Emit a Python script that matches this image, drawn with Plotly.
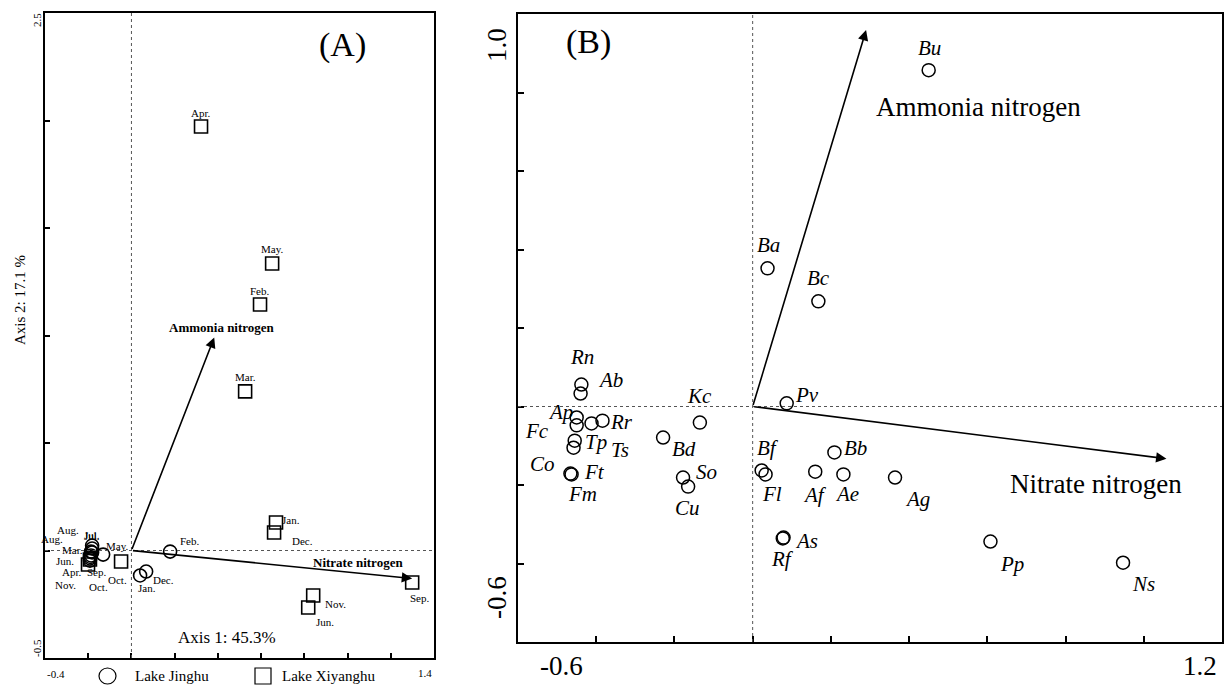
import plotly.graph_objects as go
import numpy as np

# ---------------- Panel A data (sites / months) ----------------
jinghu_months = ["Jan.", "Feb.", "Mar.", "Apr.", "May.", "Jun.", "Jul.", "Aug.", "Sep.", "Oct.", "Nov.", "Dec."]
jinghu_x = [0.040, 0.179, -0.187, -0.192, -0.131, -0.187, -0.182, -0.182, -0.182, -0.190, -0.192, 0.068]
jinghu_y = [-0.116, -0.005, -0.005, -0.037, -0.019, -0.023, 0.009, 0.023, -0.009, -0.030, -0.047, -0.098]

xiyang_months = ["Jan.", "Feb.", "Mar.", "Apr.", "May.", "Jun.", "Jul.", "Aug.", "Sep.", "Oct.", "Nov.", "Dec."]
xiyang_x = [0.669, 0.595, 0.526, 0.322, 0.651, 0.818, -0.192, -0.201, 1.299, -0.048, 0.841, 0.660]
xiyang_y = [0.130, 1.144, 0.740, 1.972, 1.335, -0.265, -0.042, -0.065, -0.149, -0.051, -0.209, 0.084]

env_vars = ["Ammonia nitrogen", "Nitrate nitrogen"]
envA_x = [0.383, 1.299]
envA_y = [0.991, -0.130]

# ---------------- Panel B data (species) ----------------
species = ["Bu", "Ba", "Bc", "Pv", "Bb", "Bf", "Fl", "Af", "Ae", "Ag", "As", "Rf", "Pp", "Ns",
           "Kc", "Bd", "So", "Cu", "Rn", "Ab", "Ap", "Rr", "Fc", "Tp", "Ts", "Co", "Ft", "Fm"]
species_x = [0.450, 0.038, 0.168, 0.087, 0.209, 0.023, 0.033, 0.160, 0.232, 0.364, 0.079, 0.077, 0.608, 0.947,
             -0.135, -0.229, -0.178, -0.165, -0.438, -0.440, -0.450, -0.384, -0.450, -0.455, -0.412, -0.458, -0.466, -0.463]
species_y = [0.857, 0.352, 0.268, 0.008, -0.117, -0.163, -0.173, -0.166, -0.173, -0.181, -0.334, -0.336, -0.344, -0.398,
             -0.041, -0.079, -0.181, -0.204, 0.056, 0.033, -0.028, -0.036, -0.048, -0.087, -0.043, -0.105, -0.171, -0.173]
envB_x = [0.290, 1.058]
envB_y = [0.959, -0.133]

# ---------------- label offsets (screen px: dx right, dy down) ----------------
offA_jing = {"Jan.": (7, 13), "Feb.": (20, -11), "Mar.": (-19, -2), "Apr.": (-18, 14), "May.": (14, -9),
             "Jun.": (-26, 6), "Jul.": (0, -13), "Aug.": (-24, -16), "Sep.": (5, 20), "Oct.": (8, 30),
             "Nov.": (-24, 24), "Dec.": (17, 8)}
offA_xiy = {"Jan.": (15, -3), "Feb.": (0, -14), "Mar.": (0, -14), "Apr.": (0, -14), "May.": (0, -14),
            "Jun.": (17, 15), "Jul.": (2, -25), "Aug.": (-36, -25), "Sep.": (8, 15), "Oct.": (-4, 19),
            "Nov.": (22, 9), "Dec.": (28, 9)}
offB = {"Bu": (1, -22), "Ba": (1, -23), "Bc": (0, -23), "Pv": (20, -8), "Bb": (21, -4), "Bf": (6, -22),
        "Fl": (6, 20), "Af": (0, 23), "Ae": (4, 20), "Ag": (22, 21), "As": (23, 3), "Rf": (0, 21),
        "Pp": (22, 22), "Ns": (20, 21), "Kc": (0, -27), "Bd": (21, 11), "So": (23, -6), "Cu": (-1, 21),
        "Rn": (1, -28), "Ab": (30, -14), "Ap": (-16, -5), "Rr": (19, 1), "Fc": (-40, 6), "Tp": (21, 1),
        "Ts": (28, 27), "Co": (-31, 16), "Ft": (24, -2), "Fm": (11, 20)}

SERIF = "Liberation Serif, Times New Roman, serif"
W, H = 1224, 686

fig = go.Figure()

# Panel A markers
fig.add_trace(go.Scatter(x=xiyang_x, y=xiyang_y, mode="markers", xaxis="x", yaxis="y",
                         marker=dict(symbol="square-open", size=13, color="black", line=dict(width=1.6)),
                         showlegend=False, hoverinfo="skip"))
fig.add_trace(go.Scatter(x=jinghu_x, y=jinghu_y, mode="markers", xaxis="x", yaxis="y",
                         marker=dict(symbol="circle-open", size=13, color="black", line=dict(width=1.6)),
                         showlegend=False, hoverinfo="skip"))
# Panel B markers
fig.add_trace(go.Scatter(x=species_x, y=species_y, mode="markers", xaxis="x2", yaxis="y2",
                         marker=dict(symbol="circle-open", size=13, color="black", line=dict(width=1.5)),
                         showlegend=False, hoverinfo="skip"))

ann = []
C = dict(xanchor="center", yanchor="middle", showarrow=False)
for m, x, y in zip(jinghu_months, jinghu_x, jinghu_y):
    dx, dy = offA_jing[m]
    ann.append(dict(x=x, y=y, xref="x", yref="y", text=m, xshift=dx, yshift=-dy,
                    font=dict(family=SERIF, size=11, color="black"), **C))
for m, x, y in zip(xiyang_months, xiyang_x, xiyang_y):
    dx, dy = offA_xiy[m]
    ann.append(dict(x=x, y=y, xref="x", yref="y", text=m, xshift=dx, yshift=-dy,
                    font=dict(family=SERIF, size=11, color="black"), **C))
for s, x, y in zip(species, species_x, species_y):
    dx, dy = offB[s]
    ann.append(dict(x=x, y=y, xref="x2", yref="y2", text="<i>" + s + "</i>",
                    xshift=dx, yshift=-dy, font=dict(family=SERIF, size=21, color="black"), **C))

# environmental arrows
for (xr, yr, ex, ey) in [("x", "y", envA_x, envA_y), ("x2", "y2", envB_x, envB_y)]:
    for vx, vy in zip(ex, ey):
        ann.append(dict(x=vx, y=vy, ax=0, ay=0, xref=xr, yref=yr, axref=xr, ayref=yr, text="",
                        showarrow=True, arrowhead=2, arrowsize=1.3, arrowwidth=1.6, arrowcolor="black"))

# arrow labels
ann.append(dict(x=envA_x[0], y=envA_y[0], xref="x", yref="y", text="<b>" + env_vars[0] + "</b>",
                xshift=8, yshift=10, font=dict(family=SERIF, size=13, color="black"), **C))
ann.append(dict(x=envA_x[1], y=envA_y[1], xref="x", yref="y", text="<b>" + env_vars[1] + "</b>",
                xshift=-54, yshift=16, font=dict(family=SERIF, size=13, color="black"), **C))
ann.append(dict(x=envB_x[0], y=envB_y[0], xref="x2", yref="y2", text=env_vars[0],
                xshift=112, yshift=-77, font=dict(family=SERIF, size=27, color="black"), **C))
ann.append(dict(x=envB_x[1], y=envB_y[1], xref="x2", yref="y2", text=env_vars[1],
                xshift=-70, yshift=-25, font=dict(family=SERIF, size=27, color="black"), **C))

def px(x):
    return x / W

def py(y):
    return 1 - y / H

def ptext(x, y, t, size, angle=0, anchor="center"):
    return dict(x=px(x), y=py(y), xref="paper", yref="paper", text=t, showarrow=False,
                xanchor=anchor, yanchor="middle", textangle=angle,
                font=dict(family=SERIF, size=size, color="black"))

# panel titles and axis texts
ann += [
    ptext(342, 45, "(A)", 34),
    ptext(588, 42, "(B)", 34),
    ptext(227, 637, "Axis 1: 45.3%", 17),
    ptext(20, 300, "Axis 2: 17.1 %", 15, -90),
    ptext(56, 674, "-0.4", 11),
    ptext(425, 673, "1.4", 11),
    ptext(37, 20, "2.5", 11, -90),
    ptext(37, 648, "-0.5", 11, -90),
    ptext(561, 666, "-0.6", 27),
    ptext(1200, 666, "1.2", 27),
    ptext(497, 45, "1.0", 27, -90),
    ptext(497, 598, "-0.6", 27, -90),
    ptext(133, 676, "Lake Jinghu", 15, anchor="left"),
    ptext(280, 676, "Lake Xiyanghu", 15, anchor="left"),
]

shapes = [
    # zero reference lines
    dict(type="line", xref="x", yref="paper", x0=0, x1=0, y0=py(658), y1=py(13),
         line=dict(color="#555", width=1, dash="dot")),
    dict(type="line", xref="paper", yref="y", x0=px(45), x1=px(434), y0=0, y1=0,
         line=dict(color="#555", width=1, dash="dot")),
    dict(type="line", xref="x2", yref="paper", x0=0, x1=0, y0=py(642), y1=py(14),
         line=dict(color="#555", width=1, dash="dot")),
    dict(type="line", xref="paper", yref="y2", x0=px(518), x1=px(1222), y0=0, y1=0,
         line=dict(color="#555", width=1, dash="dot")),
    # legend symbols
    dict(type="circle", xref="paper", yref="paper", x0=px(99), x1=px(116), y0=py(684), y1=py(668),
         line=dict(color="black", width=1.2)),
    dict(type="rect", xref="paper", yref="paper", x0=px(255), x1=px(271), y0=py(684), y1=py(668),
         line=dict(color="black", width=1.2)),
]

axis_common = dict(showgrid=False, zeroline=False, showticklabels=False, linecolor="black",
                   mirror=True, ticks="inside", tickcolor="black", showline=True)

fig.update_layout(
    width=W, height=H, margin=dict(l=0, r=0, t=0, b=0),
    paper_bgcolor="white", plot_bgcolor="white", showlegend=False,
    xaxis=dict(domain=[px(45), px(434)], range=[-0.4, 1.4], tickvals=list(np.round(np.arange(-0.4, 1.41, 0.2), 2)),
               linewidth=2, ticklen=5, tickwidth=1.5, anchor="y", **axis_common),
    yaxis=dict(domain=[py(658), py(13)], range=[-0.5, 2.5], tickvals=list(np.arange(-0.5, 2.51, 0.5)),
               linewidth=2, ticklen=5, tickwidth=1.5, anchor="x", **axis_common),
    xaxis2=dict(domain=[px(518), px(1222)], range=[-0.6, 1.2], tickvals=list(np.round(np.arange(-0.6, 1.21, 0.2), 2)),
                linewidth=2, ticklen=6, tickwidth=1.5, anchor="y2", **axis_common),
    yaxis2=dict(domain=[py(642), py(14)], range=[-0.6, 1.0], tickvals=list(np.round(np.arange(-0.6, 1.01, 0.2), 2)),
                linewidth=2, ticklen=6, tickwidth=1.5, anchor="x2", **axis_common),
    annotations=ann, shapes=shapes,
)

fig.write_html("out.html", config={"displayModeBar": False},
               post_script="document.body.style.margin='0px';document.body.style.overflow='hidden';")
